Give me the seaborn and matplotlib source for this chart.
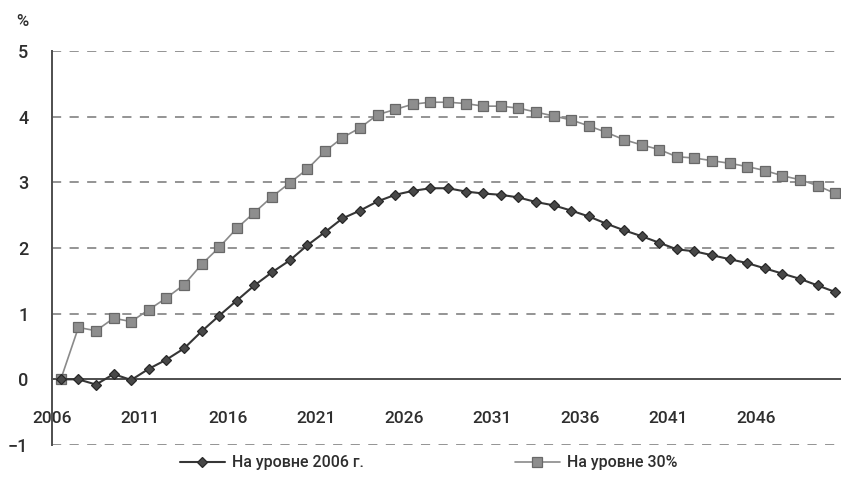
import matplotlib
matplotlib.use("Agg")
import matplotlib.pyplot as plt
import seaborn as sns
import pandas as pd

# Years of the projection horizon
years = list(range(2006, 2051))

# Scenario 1: rate kept at the 2006 level
level_2006 = [
    0.00, 0.00, -0.08, 0.08, -0.01, 0.16, 0.30, 0.47, 0.73, 0.97,
    1.20, 1.43, 1.63, 1.81, 2.04, 2.24, 2.45, 2.57, 2.71, 2.81,
    2.87, 2.91, 2.91, 2.86, 2.83, 2.81, 2.77, 2.70, 2.65, 2.57,
    2.48, 2.37, 2.27, 2.18, 2.08, 1.98, 1.95, 1.89, 1.83, 1.77,
    1.69, 1.61, 1.53, 1.43, 1.33,
]

# Scenario 2: rate kept at 30%
level_30 = [
    0.00, 0.79, 0.74, 0.93, 0.88, 1.06, 1.24, 1.44, 1.75, 2.01,
    2.30, 2.54, 2.78, 2.99, 3.20, 3.47, 3.68, 3.83, 4.03, 4.11,
    4.19, 4.22, 4.22, 4.20, 4.16, 4.16, 4.13, 4.07, 4.01, 3.95,
    3.86, 3.76, 3.65, 3.57, 3.50, 3.39, 3.37, 3.33, 3.29, 3.24,
    3.18, 3.10, 3.04, 2.95, 2.83,
]

series_labels = ["На уровне 2006 г.", "На уровне 30%"]
xtick_years = [2006, 2011, 2016, 2021, 2026, 2031, 2036, 2041, 2046]
ytick_values = [-1, 0, 1, 2, 3, 4, 5]
ytick_labels = ["\u22121", "0", "1", "2", "3", "4", "5"]

df = pd.DataFrame({"year": years, "s2006": level_2006, "s30": level_30})

sns.set_style("white")
plt.rcParams["font.family"] = ["Roboto", "DejaVu Sans"]
plt.rcParams["font.weight"] = "medium"

TEXT = "#2e2e2e"

fig = plt.figure(figsize=(8.41, 4.96), dpi=100)
ax = fig.add_axes([52 / 841, 51 / 496, 1 - 52 / 841, 394 / 496])

# Dashed horizontal grid (zero is drawn by the axis line itself)
for yv in ytick_values:
    if yv != 0:
        ax.axhline(yv, color="#767676", lw=1.1, dashes=(6, 5.5), zorder=1)

sns.lineplot(data=df, x="year", y="s30", ax=ax, color="#8a8a8a", lw=1.2,
             marker="s", markersize=6.8, markerfacecolor="#8e8e8e",
             markeredgecolor="#686868", markeredgewidth=0.9,
             label=series_labels[1], zorder=3, clip_on=False)
sns.lineplot(data=df, x="year", y="s2006", ax=ax, color="#363636", lw=1.5,
             marker="D", markersize=5.6, markerfacecolor="#484848",
             markeredgecolor="#282828", markeredgewidth=0.9,
             label=series_labels[0], zorder=4, clip_on=False)

ax.set_xlim(2005.5, 2005.5 + (841 - 52) / 17.6)
ax.set_ylim(-1, 5)

# Category-style ticks sit half a year before the labelled year
ax.set_xticks([y - 0.5 for y in xtick_years])
ax.set_xticklabels([str(y) for y in xtick_years])
ax.set_yticks(ytick_values)
ax.set_yticklabels(ytick_labels)

ax.spines["top"].set_visible(False)
ax.spines["right"].set_visible(False)
ax.spines["bottom"].set_position(("data", 0))
for side in ("left", "bottom"):
    ax.spines[side].set_color("#4e4e4e")
    ax.spines[side].set_linewidth(1.4)

ax.tick_params(axis="x", direction="out", length=6, width=1.1, color="#4e4e4e",
               pad=17, labelsize=12.5, labelcolor=TEXT)
ax.tick_params(axis="y", direction="out", length=8, width=1.1, color="#4e4e4e",
               pad=9, labelsize=13, labelcolor=TEXT)
ax.set_xlabel("")
ax.set_ylabel("")

fig.text(16 / 841, 1 - 22 / 496, "%", fontsize=12, color=TEXT,
         va="center", ha="left")

# Legend: one entry per column, placed along the bottom of the figure
handles, labels = ax.get_legend_handles_labels()
ax.get_legend().remove()
lookup = dict(zip(labels, handles))
legend_y = 1 - 463 / 496
starts = [180 / 841, 515 / 841]
leg_objs = []
for lab, x0 in zip(series_labels, starts):
    leg = fig.legend([lookup[lab]], [lab], loc="center left",
                     bbox_to_anchor=(x0, legend_y), frameon=False,
                     fontsize=11.5, handlelength=2.8, handletextpad=0.45,
                     borderpad=0, borderaxespad=0, labelcolor=TEXT)
    leg_objs.append(leg)

fig.savefig("out.png", dpi=100, facecolor="white")
